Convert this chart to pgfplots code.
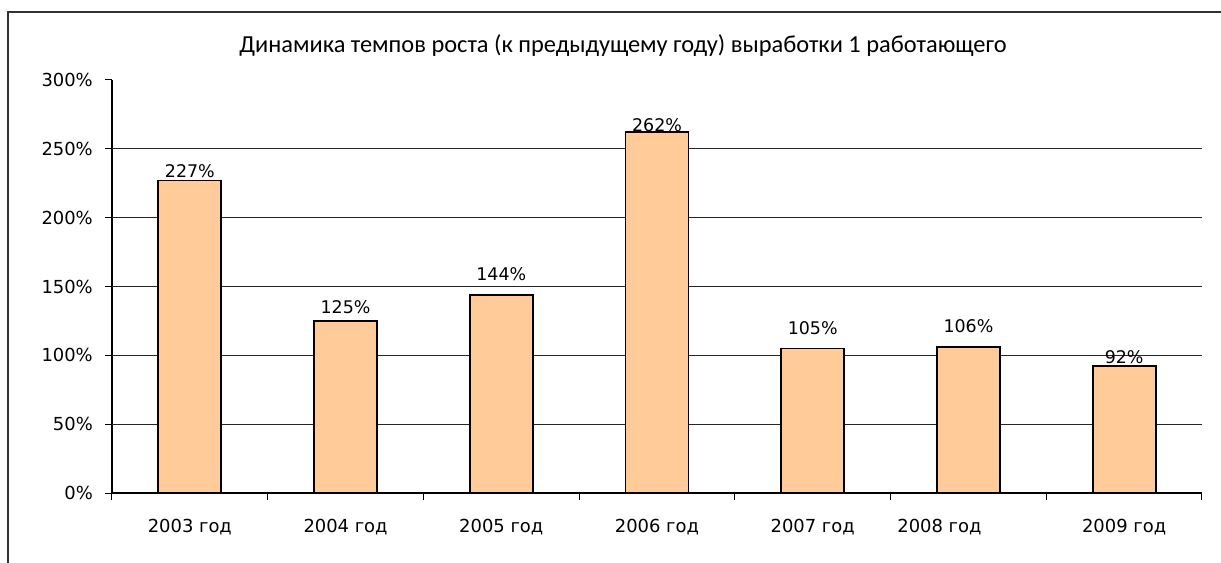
\documentclass[border=0pt]{standalone}
\usepackage{fontspec}
\setmainfont{DejaVu Sans}
\newfontfamily\titlefont{Carlito}
\usepackage{pgfplots}
\usepackage{pgfplotstable}
\pgfplotsset{compat=1.18}

% growth rate per year, off = gap of the label above the bar (bp)
\pgfplotstableread{
x y off
0 227 3
1 125 7
2 144 14
3 262 1
4 105 14
5 106 15
6 92 3
}\rates

\definecolor{peach}{HTML}{FFCC99}
\definecolor{framegray}{HTML}{333333}

\begin{document}
\begin{tikzpicture}[x=1bp,y=1bp]
\begin{axis}[
    at={(0,0)}, anchor=south west,
    scale only axis, width=1090bp, height=413bp,
    xmin=-0.5, xmax=6.5, ymin=0, ymax=300,
    clip=false,
    axis x line*=bottom, axis y line*=left,
    axis line style={line width=1.4bp, black, -},
    tick align=outside,
    major tick length=7bp, minor tick length=7bp,
    tick style={line width=1bp, black},
    major x tick style={draw=none},
    xtick={0,...,6},
    minor xtick={-0.5,0.5,...,6.5},
    xticklabels={2003 год, 2004 год, 2005 год, 2006 год, 2007 год,
        {\hspace*{-58bp}2008 год}, 2009 год},
    xticklabel style={anchor=base, yshift=-32bp},
    ytick={0,50,...,300},
    yticklabels={0\%,50\%,100\%,150\%,200\%,250\%,300\%},
    yticklabel style={inner sep=0pt, xshift=-12bp},
    extra y ticks={50,100,150,200,250},
    extra y tick labels={},
    extra y tick style={grid=major, major tick length=0pt},
    major grid style={line width=0.9bp, black!85},
    ticklabel style={font=\fontsize{18}{21}\selectfont},
    ybar, bar width=63bp,
    visualization depends on={\thisrow{off} \as \off},
    nodes near coords={\pgfmathprintnumber[assume math mode=true]{\pgfplotspointmeta}\%},
    every node near coord/.append style={anchor=base, inner sep=0pt,
        yshift={\off*1bp}, font=\fontsize{17.5}{20}\selectfont, black},
]
\addplot[fill=peach, draw=black, line width=1.9bp] table[x=x, y=y] {\rates};
\end{axis}
\node[anchor=base, font=\titlefont\fontsize{24.5}{28}\selectfont] at (511bp,440bp)
    {Динамика темпов роста (к предыдущему году) выработки 1 работающего};
\draw[framegray, line width=1.5bp] (-104bp,-75bp) -- (-104bp,481bp) -- (1115bp,481bp);
\pgfresetboundingbox
\path (-112bp,-70bp) rectangle (1109bp,493bp);
\end{tikzpicture}
\end{document}
